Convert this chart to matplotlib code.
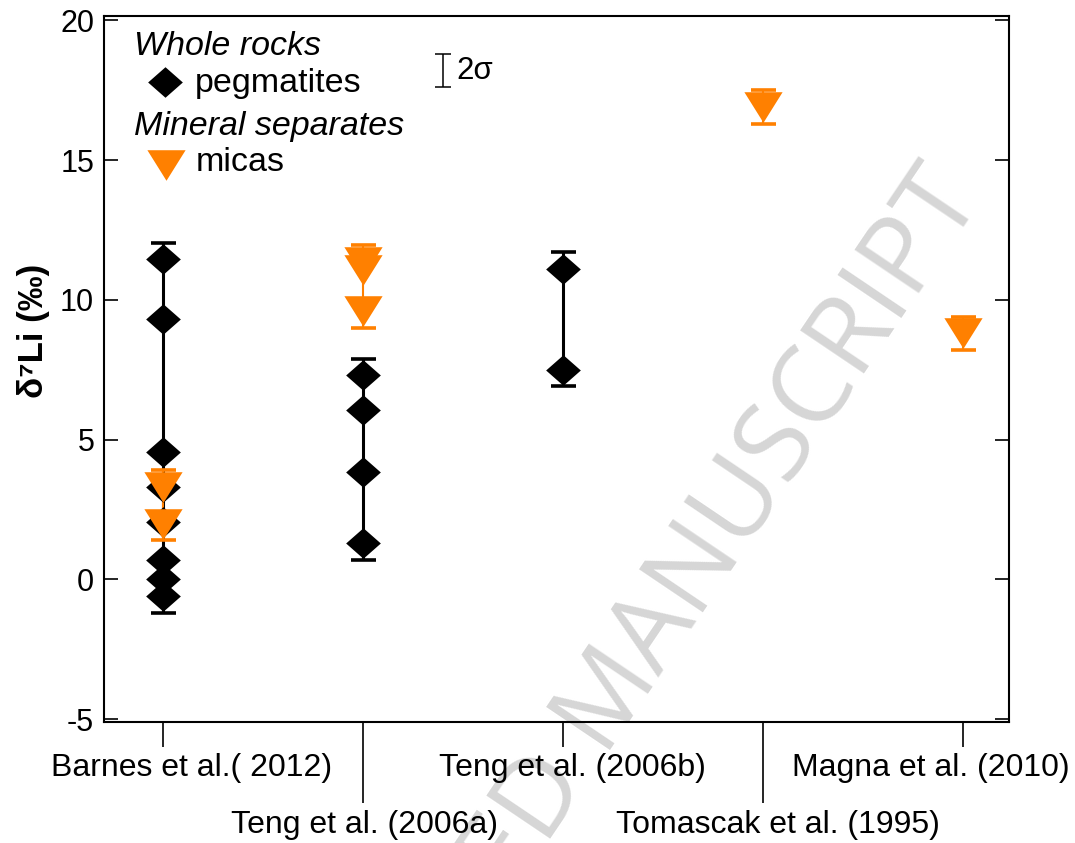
"""
Li isotope compositions of pegmatites and micas, grouped by study.
"""

import matplotlib
matplotlib.use("Agg")
import matplotlib.pyplot as plt
import matplotlib.transforms as mtransforms

plt.rcParams["font.family"] = ["Liberation Sans", "DejaVu Sans"]
plt.rcParams["axes.unicode_minus"] = False

# --- data ---
studies = ["Barnes et al.( 2012)", "Teng et al. (2006a)", "Teng et al. (2006b)",
           "Tomascak et al. (1995)", "Magna et al. (2010)"]
study_pos = [1, 2, 3, 4, 5]

# whole-rock pegmatites, per study (empty = none)
peg_values = [
    [11.45, 9.3, 4.55, 3.3, 2.05, 0.7, 0.0, -0.6],
    [7.3, 6.05, 3.85, 1.3],
    [11.1, 7.5],
    [],
    [],
]
# mica separates, per study
mica_values = [
    [3.3, 2.0],
    [11.35, 11.05, 9.6],
    [],
    [16.9],
    [8.8],
]
two_sigma = 0.6

BLACK = "black"
ORANGE = "#ff8000"
diamond = [(0, 0.88), (1, 0), (0, -0.88), (-1, 0)]
triangle = [(-1, 0.8), (1, 0.8), (0, -0.8)]

fig = plt.figure(figsize=(10.75, 8.43), dpi=100)
ax = fig.add_axes([0.0967, 0.1435, 0.8419, 0.8375])
ax.set_facecolor("none")


def draw_group(x, vals, color, marker, ms, lw):
    """Range line with 2-sigma caps at the ends, plus the points."""
    if not vals:
        return
    lo = min(vals) - two_sigma
    hi = max(vals) + two_sigma
    mid = (lo + hi) / 2
    ax.errorbar(x, mid, yerr=[[mid - lo], [hi - mid]], fmt="none", ecolor=color,
                elinewidth=lw, capsize=9, capthick=2.6, zorder=2)
    ax.plot([x] * len(vals), vals, linestyle="none", marker=marker, ms=ms,
            color=color, mew=0, zorder=3)


for x, vals in zip(study_pos, peg_values):
    draw_group(x, vals, BLACK, diamond, 25, 2.2)
for x, vals in zip(study_pos, mica_values):
    draw_group(x, vals, ORANGE, triangle, 27.5, 1.5)

# 2 sigma scale bar
ax.errorbar(2.4, 18.2, yerr=two_sigma, fmt="none", ecolor=BLACK, elinewidth=1.1,
            capsize=6, capthick=1.1)
ax.text(2.466, 18.2, "2σ", fontsize=22.5, va="center", ha="left")

# legend, written by hand like the original
ax.plot(0.067, 0.906, marker=diamond, ms=25, color=BLACK, mew=0,
        transform=ax.transAxes, clip_on=False)
ax.plot(0.0685, 0.789, marker=triangle, ms=27.5, color=ORANGE, mew=0,
        transform=ax.transAxes, clip_on=False)
ax.text(0.033, 0.957, "Whole rocks", fontsize=24.5, style="italic",
        va="center", transform=ax.transAxes)
ax.text(0.1005, 0.905, "pegmatites", fontsize=24.5, va="center", transform=ax.transAxes)
ax.text(0.033, 0.844, "Mineral separates", fontsize=24.5, style="italic",
        va="center", transform=ax.transAxes)
ax.text(0.1017, 0.792, "micas", fontsize=24.5, va="center", transform=ax.transAxes)

# axes
ax.set_xlim(0.705, 5.23)
ax.set_ylim(-5.1, 20.15)
ax.set_yticks([-5, 0, 5, 10, 15, 20])
ax.tick_params(axis="y", direction="in", length=10, width=1.2, right=True,
               labelsize=22, pad=7)
ax.set_ylabel("δ⁷Li (‰)", fontsize=25, fontweight="bold")
ax.yaxis.set_label_coords(-0.0597, 0.554)

ax.set_xticks(study_pos[0::2], labels=studies[0::2])
ax.set_xticks(study_pos[1::2], labels=studies[1::2], minor=True)
ax.tick_params(axis="x", which="major", direction="out", length=18, width=1.2,
               labelsize=23, pad=4.5)
ax.tick_params(axis="x", which="minor", direction="out", length=58, width=1.2,
               labelsize=23, pad=5.5)

# small horizontal nudges so the labels sit where they do in the original
label_shift = {"Barnes et al.( 2012)": 29, "Teng et al. (2006a)": 2,
               "Teng et al. (2006b)": 9, "Tomascak et al. (1995)": 15,
               "Magna et al. (2010)": -32}
for lab in ax.get_xticklabels() + ax.get_xticklabels(minor=True):
    dx = label_shift.get(lab.get_text(), 0)
    off = mtransforms.ScaledTranslation(dx / 100, 0, fig.dpi_scale_trans)
    lab.set_transform(lab.get_transform() + off)

for sp in ax.spines.values():
    sp.set_linewidth(1.5)

# journal watermark, behind everything
fig.text(0.572, 0.178, "ACCEPTED MANUSCRIPT", fontsize=78, family="Open Sans",
         color="#d6d6d6", rotation=56, ha="center", va="center",
         rotation_mode="anchor", zorder=-1)

fig.savefig("out.png", dpi=100)
